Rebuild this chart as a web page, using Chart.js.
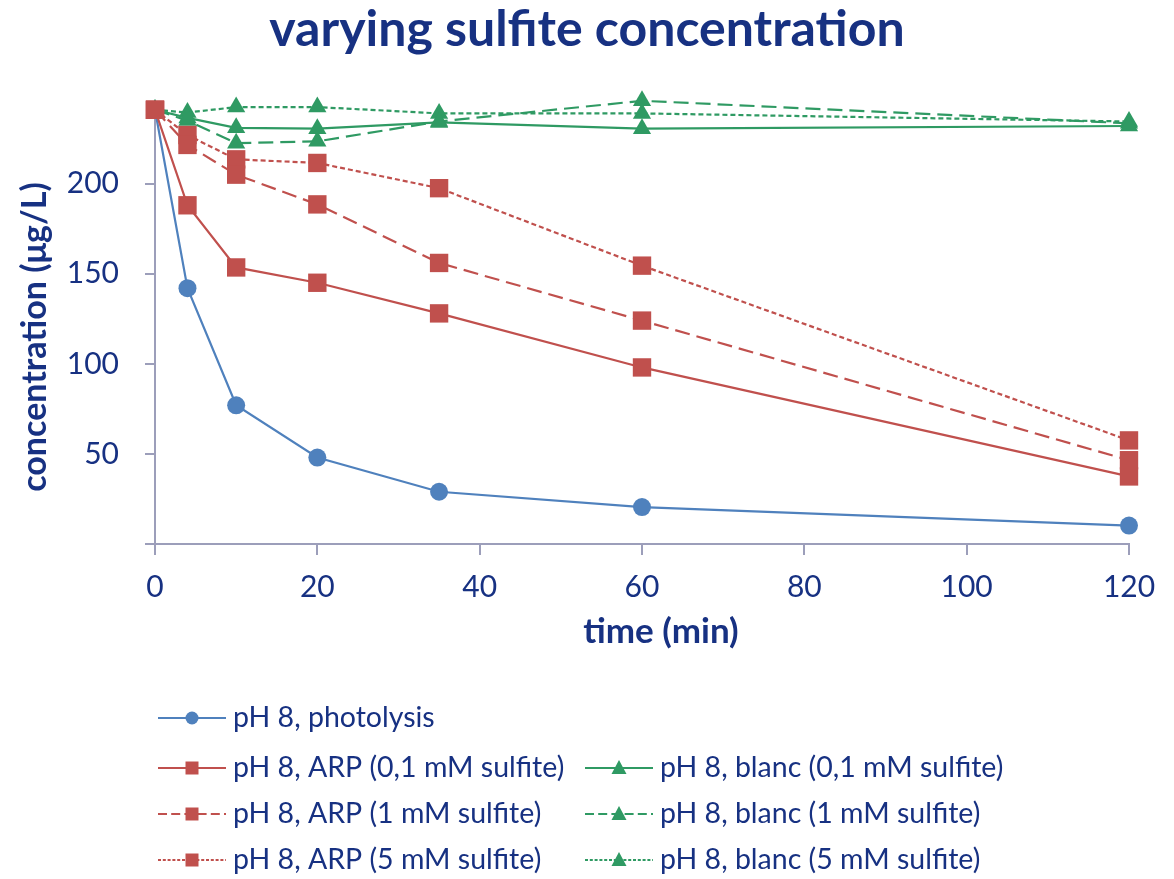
<!DOCTYPE html>
<html>
<head>
<meta charset="utf-8">
<script src="https://cdn.jsdelivr.net/npm/chart.js@4"></script>
<style>
  html, body { margin: 0; padding: 0; background: #fff; }
  #wrap { width: 1174px; height: 879px; }
</style>
</head>
<body>
<div id="wrap"><canvas id="myChart"></canvas></div>
<script>
// time points (min)
const times = [0, 4, 10, 20, 35, 60, 120];

// concentration (µg/L)
const photolysis = [241, 142, 77, 48, 29, 20.5, 10.2];
const arp01 = [241, 188, 153.5, 145, 128, 98, 37.5];
const arp1 = [241, 221.5, 205, 188.5, 156, 124, 46.5];
const arp5 = [241, 227, 213.5, 211.5, 197.5, 154.5, 57.5];
const blanc01 = [241, 236.5, 231, 230.5, 234, 230.5, 232];
const blanc1 = [241, 235, 222.5, 223.5, 234.5, 246, 233.5];
const blanc5 = [241, 239.5, 242.5, 242.5, 239, 239, 234.5];

const seriesLabels = [
  'pH 8, photolysis',
  'pH 8, ARP (0,1 mM sulfite)',
  'pH 8, ARP (1 mM sulfite)',
  'pH 8, ARP (5 mM sulfite)',
  'pH 8, blanc (0,1 mM sulfite)',
  'pH 8, blanc (1 mM sulfite)',
  'pH 8, blanc (5 mM sulfite)'
];

const xTicks = [0, 20, 40, 60, 80, 100, 120];
const yTicks = [0, 50, 100, 150, 200];

const chartTitle = 'varying sulfite concentration';
const xTitle = 'time (min)';
const yTitle = 'concentration (μg/L)';

const navy = '#173182';
const axisGrey = '#9c9eba';
const blue = '#4f81bd';
const red = '#c0504d';
const green = '#2f9a63';
const FONT = 'Lato, "Open Sans", sans-serif';

function series(label, values, color, dash, style, radius, order) {
  return {
    label: label,
    data: times.map((t, i) => ({ x: t, y: values[i] })),
    borderColor: color,
    backgroundColor: color,
    borderWidth: 2.2,
    borderDash: dash,
    pointStyle: style,
    pointRadius: radius,
    pointHoverRadius: radius,
    pointBorderWidth: 0,
    pointBackgroundColor: color,
    tension: 0,
    clip: false,
    order: order
  };
}

const datasets = [
  series(seriesLabels[0], photolysis, blue, [], 'circle', 9, 1),
  series(seriesLabels[1], arp01, red, [], 'rect', 13, 0),
  series(seriesLabels[2], arp1, red, [15, 7], 'rect', 13, 0),
  series(seriesLabels[3], arp5, red, [5, 3], 'rect', 13, 0),
  series(seriesLabels[4], blanc01, green, [], 'triangle', 10.5, 2),
  series(seriesLabels[5], blanc1, green, [15, 7], 'triangle', 10.5, 2),
  series(seriesLabels[6], blanc5, green, [5, 3], 'triangle', 10.5, 2)
];

// small marker for the legend
function legendMarker(ctx, style, x, y, color) {
  ctx.save();
  ctx.fillStyle = color;
  ctx.setLineDash([]);
  ctx.beginPath();
  if (style === 'circle') {
    ctx.arc(x, y, 6.5, 0, Math.PI * 2);
  } else if (style === 'rect') {
    ctx.rect(x - 6.5, y - 6.5, 13, 13);
  } else {
    ctx.moveTo(x, y - 8);
    ctx.lineTo(x + 7.5, y + 6);
    ctx.lineTo(x - 7.5, y + 6);
    ctx.closePath();
  }
  ctx.fill();
  ctx.restore();
}

const legendRows = [[0], [1, 4], [2, 5], [3, 6]];

// titles placed the way the spreadsheet placed them
const titles = {
  id: 'titles',
  afterDraw(chart) {
    const ctx = chart.ctx;
    ctx.save();
    ctx.fillStyle = navy;
    ctx.textAlign = 'center';
    ctx.textBaseline = 'middle';
    ctx.font = 'bold 50px ' + FONT;
    ctx.fillText(chartTitle, 587, 30);
    ctx.font = 'bold 35px ' + FONT;
    ctx.fillText(xTitle, 661, 632);
    ctx.translate(35, 337);
    ctx.rotate(-Math.PI / 2);
    ctx.font = 'bold 34px ' + FONT;
    ctx.fillText(yTitle, 0, 0);
    ctx.restore();
  }
};

const gridLegend = {
  id: 'gridLegend',
  afterDraw(chart) {
    const ctx = chart.ctx;
    const rowY = [718, 768, 814, 860];
    const colX = [158, 585];
    ctx.save();
    ctx.font = '28.5px ' + FONT;
    ctx.textBaseline = 'middle';
    ctx.textAlign = 'left';
    legendRows.forEach((row, r) => {
      row.forEach((di, c) => {
        const ds = chart.data.datasets[di];
        const x0 = colX[c];
        const y = rowY[r];
        ctx.strokeStyle = ds.borderColor;
        ctx.lineWidth = 2;
        ctx.setLineDash(ds.borderDash.length ? ds.borderDash.map(v => v * 0.6) : []);
        ctx.beginPath();
        ctx.moveTo(x0, y);
        ctx.lineTo(x0 + 68, y);
        ctx.stroke();
        legendMarker(ctx, ds.pointStyle, x0 + 34, y, ds.borderColor);
        ctx.fillStyle = navy;
        ctx.fillText(ds.label, x0 + 75, y);
      });
    });
    ctx.restore();
  }
};

const ctx = document.getElementById('myChart').getContext('2d');

new Chart(ctx, {
  type: 'line',
  data: { datasets: datasets },
  plugins: [titles, gridLegend],
  options: {
    responsive: true,
    maintainAspectRatio: false,
    animation: false,
    events: [],
    layout: { padding: { left: 0, right: 45, top: 108, bottom: 227 } },
    plugins: {
      legend: { display: false },
      tooltip: { enabled: false },
      title: { display: false }
    },
    scales: {
      x: {
        type: 'linear',
        min: 0,
        max: 120,
        afterBuildTicks: (scale) => { scale.ticks = xTicks.map(v => ({ value: v })); },
        afterFit: (scale) => { scale.height = 108; },
        border: { display: true, color: axisGrey, width: 2 },
        grid: { display: true, drawOnChartArea: false, drawTicks: true, tickLength: 11, color: axisGrey, lineWidth: 2 },
        ticks: { color: navy, font: { family: FONT, size: 30 }, padding: 14, maxRotation: 0 },
        title: { display: false }
      },
      y: {
        type: 'linear',
        min: 0,
        max: 242,
        afterBuildTicks: (scale) => { scale.ticks = yTicks.map(v => ({ value: v })); },
        afterFit: (scale) => { scale.width = 155; },
        border: { display: true, color: axisGrey, width: 2 },
        grid: { display: true, drawOnChartArea: false, drawTicks: true, tickLength: 10, color: axisGrey, lineWidth: 2 },
        ticks: {
          color: navy,
          font: { family: FONT, size: 30 },
          padding: 26,
          callback: (v) => (v === 0 ? '' : v)
        },
        title: { display: false }
      }
    }
  }
});
</script>
</body>
</html>
